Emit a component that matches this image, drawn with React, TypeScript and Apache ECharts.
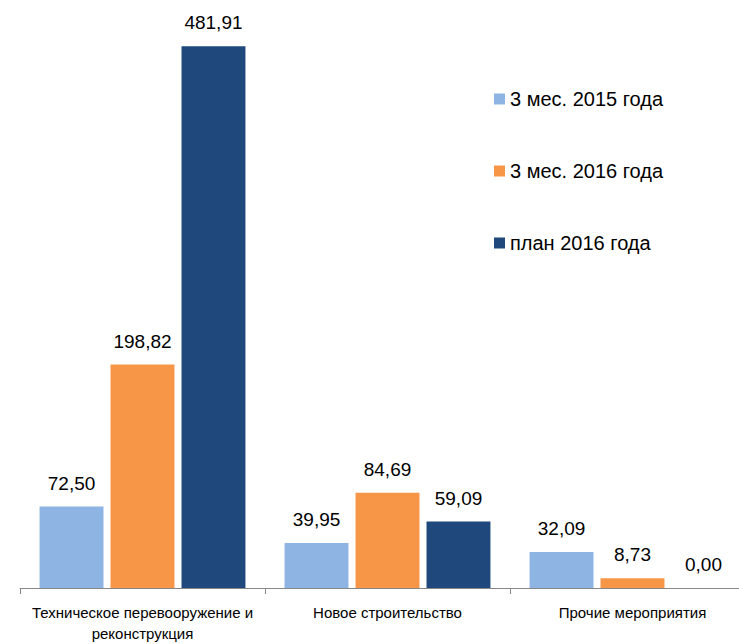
import React, { useEffect, useRef } from "react";
import * as echarts from "echarts";

const categories = ["Техническое перевооружение и\nреконструкция", "Новое строительство", "Прочие мероприятия"];
const seriesNames = ["3 мес. 2015 года", "3 мес. 2016 года", "план 2016 года"];
const values2015 = [72.5, 39.95, 32.09];
const values2016 = [198.82, 84.69, 8.73];
const plan2016 = [481.91, 59.09, 0.0];
const colors = ["#8DB4E2", "#F79646", "#1F497D"];

const FONT = "'Liberation Sans', Arial, sans-serif";

export default function App() {
  const ref = useRef<HTMLDivElement>(null);
  useEffect(() => {
    document.body.style.margin = "0";
    const chart = echarts.init(ref.current!, null, { renderer: "svg" });
    const data = [values2015, values2016, plan2016];
    chart.setOption({
      animation: false,
      textStyle: { fontFamily: FONT },
      grid: { left: 20, right: 5, top: 26, bottom: 54, containLabel: false },
      legend: {
        orient: "vertical",
        left: 494,
        top: 89,
        padding: 0,
        itemGap: 52,
        itemWidth: 11,
        itemHeight: 11,
        icon: "rect",
        textStyle: { fontFamily: FONT, fontSize: 20, color: "#000" },
        data: seriesNames,
      },
      xAxis: {
        type: "category",
        data: categories,
        axisLine: { lineStyle: { color: "#888888", width: 1 } },
        axisTick: { show: true, length: 6, lineStyle: { color: "#888888" } },
        axisLabel: { fontFamily: FONT, fontSize: 15, color: "#000", margin: 14, lineHeight: 21, interval: 0 },
      },
      yAxis: { type: "value", min: 0, max: 500, show: false, splitLine: { show: false } },
      series: data.map((d, i) => ({
        name: seriesNames[i],
        type: "bar",
        data: d,
        barWidth: "26.1%",
        barGap: "11%",
        itemStyle: { color: colors[i] },
        label: {
          show: true,
          position: "top",
          distance: 14,
          fontFamily: FONT,
          fontSize: 19,
          color: "#000",
          formatter: (p: any) => Number(p.value).toFixed(2).replace(".", ","),
        },
      })),
    });
    return () => chart.dispose();
  }, []);
  return (
    <div style={{ width: 739, height: 644, overflow: "hidden", position: "relative" }}>
      <div ref={ref} style={{ width: 760, height: 644 }} />
    </div>
  );
}
